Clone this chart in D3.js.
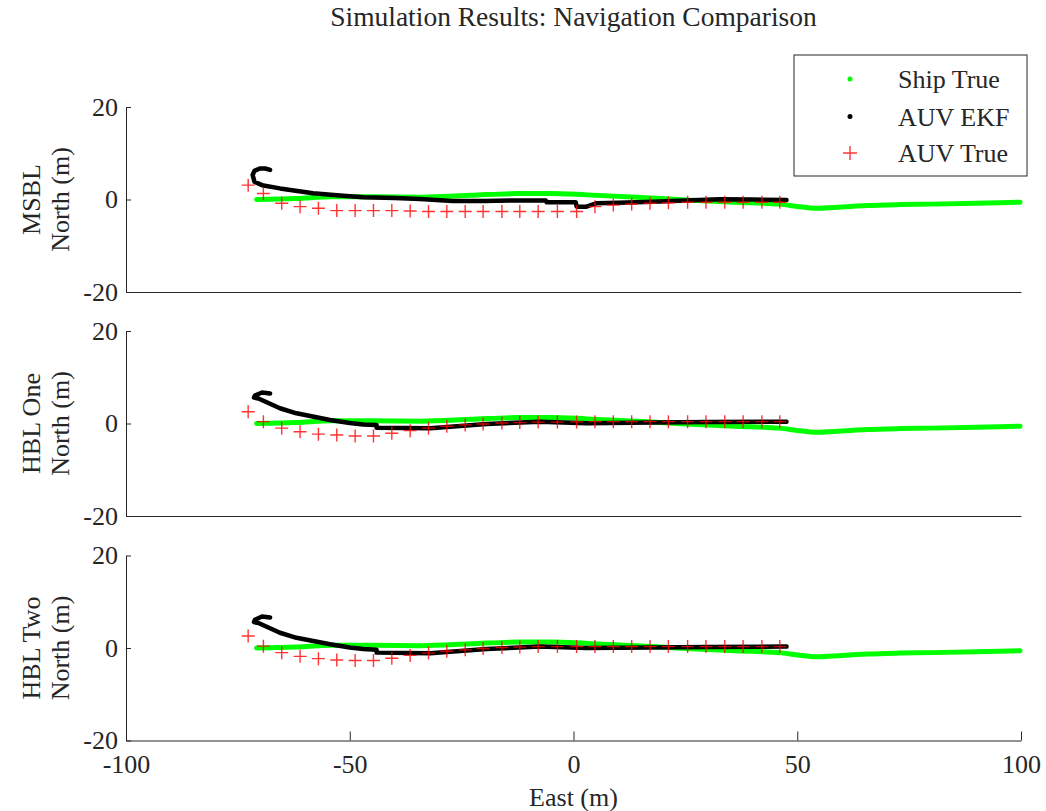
<!DOCTYPE html>
<html><head><meta charset="utf-8">
<script src="https://cdn.jsdelivr.net/npm/d3@7"></script>
<style>
body{margin:0;background:#fff;}
text{font-family:"Liberation Serif","Times New Roman",serif;fill:#262626;}
</style></head>
<body><svg id="chart" width="1046" height="811"></svg>
<script>
// ---- Data ----
const panelNames = ["MSBL", "HBL One", "HBL Two"];
const xTicks = [-100, -50, 0, 50, 100];
const yTicks = [-20, 0, 20];

// Ship True (same in all panels)
const shipX = [-70.8, -62, -54, -45, -34, -23, -12, -5, 3, 14, 25, 36, 46, 50, 54.3, 60, 65.5, 73, 80, 90, 99.8];
const shipY = [0.0, 0.2, 0.6, 0.6, 0.5, 0.9, 1.3, 1.3, 1.0, 0.5, -0.1, -0.6, -1.0, -1.5, -1.9, -1.6, -1.3, -1.1, -1.0, -0.8, -0.6];

// AUV EKF per panel
const ekfX1 = [-67.8, -68.9, -70.1, -71.3, -71.7, -71.3, -69.6, -65.6, -58.2, -52.2, -47, -40, -34.3, -27, -20, -12, -6.2, -6.0, 0.5, 0.7, 2.9, 5.2, 10, 17.8, 25, 32.7, 40, 47.6];
const ekfY1 = [6.4, 6.7, 6.7, 6.2, 5.3, 3.85, 3.1, 2.4, 1.34, 0.86, 0.48, 0.3, 0.1, -0.3, -0.3, -0.2, -0.2, -0.6, -0.6, -1.55, -1.55, -0.8, -0.7, -0.47, -0.2, 0.04, 0.0, -0.1];
const ekfX2 = [-67.8, -69.6, -71.2, -71.4, -70.4, -65.6, -61.9, -54.4, -50, -47, -44, -44, -32, -19.4, -7.5, 2.9, 17.8, 30, 47.6];
const ekfY2 = [6.5, 6.7, 6.05, 5.6, 5.4, 3.3, 2.2, 0.76, 0.1, -0.2, -0.3, -0.9, -1.05, -0.1, 0.4, 0.04, 0.2, 0.3, 0.4];
const ekfX3 = [-67.8, -69.6, -71.2, -71.4, -70.4, -65.6, -61.9, -54.4, -50, -47, -44, -44, -32, -19.4, -7.5, 2.9, 17.8, 30, 47.6];
const ekfY3 = [6.6, 6.8, 6.1, 5.6, 5.4, 3.3, 2.2, 0.8, 0.1, -0.2, -0.4, -1.0, -1.15, -0.2, 0.3, 0.0, 0.1, 0.2, 0.3];

// AUV True markers per panel
const trueX = [-72.7, -69.3, -65.2, -61.1, -57.0, -52.9, -48.8, -44.7, -40.6, -36.5, -32.4, -28.3, -24.2, -20.2, -16.0, -12.0, -7.9, -3.6, 0.7, 4.8, 8.9, 13.0, 17.1, 21.2, 25.5, 29.6, 33.8, 37.9, 42.1, 46.1];
const trueY1 = [3.1, 1.3, -0.8, -1.55, -1.9, -2.4, -2.4, -2.4, -2.4, -2.5, -2.6, -2.6, -2.6, -2.6, -2.6, -2.6, -2.6, -2.6, -2.6, -1.55, -1.2, -0.97, -0.8, -0.7, -0.6, -0.6, -0.6, -0.6, -0.6, -0.6];
const trueY2 = [2.55, 0.4, -1.0, -1.77, -2.3, -2.5, -2.7, -2.7, -2.1, -1.55, -1.0, -0.6, -0.3, -0.1, 0.1, 0.2, 0.3, 0.3, 0.35, 0.4, 0.4, 0.4, 0.4, 0.4, 0.4, 0.4, 0.4, 0.4, 0.4, 0.4];
const trueY3 = [2.6, 0.4, -1.0, -1.8, -2.3, -2.6, -2.7, -2.7, -2.2, -1.6, -1.1, -0.7, -0.4, -0.1, 0.1, 0.2, 0.3, 0.3, 0.3, 0.3, 0.3, 0.3, 0.3, 0.3, 0.3, 0.3, 0.3, 0.3, 0.3, 0.3];

const legendLabels = ["Ship True", "AUV EKF", "AUV True"];
const colors = {ship: "#00ff00", ekf: "#000000", truth: "#ff0000"};

const panels = [
  {name: panelNames[0], ekfX: ekfX1, ekfY: ekfY1, trueY: trueY1},
  {name: panelNames[1], ekfX: ekfX2, ekfY: ekfY2, trueY: trueY2},
  {name: panelNames[2], ekfX: ekfX3, ekfY: ekfY3, trueY: trueY3}
];

// ---- Layout ----
const svg = d3.select("#chart");
svg.append("rect").attr("width", 1046).attr("height", 811).attr("fill", "#fff");
const left = 126, right = 1021;
const panelTops = [107, 331, 555.5];
const panelH = 185;
const x = d3.scaleLinear().domain([-100, 100]).range([left, right]);
const fmt = d => String(d);

svg.append("text").attr("x", 573.5).attr("y", 26).attr("text-anchor", "middle")
  .style("font-size", "27.5px").text("Simulation Results: Navigation Comparison");

panels.forEach((p, i) => {
  const top = panelTops[i];
  const y = d3.scaleLinear().domain([-20, 20]).range([top + panelH, top]);
  const g = svg.append("g");

  // ship true
  const shipPts = shipX.map((v, k) => [v, shipY[k]]);
  g.append("path").datum(shipPts)
    .attr("d", d3.line().x(d => x(d[0])).y(d => y(d[1])).curve(d3.curveMonotoneX))
    .attr("fill", "none").attr("stroke", colors.ship).attr("stroke-width", 5)
    .attr("stroke-linecap", "round").attr("stroke-linejoin", "round");

  // EKF
  const ekfPts = p.ekfX.map((v, k) => [v, p.ekfY[k]]);
  g.append("path").datum(ekfPts)
    .attr("d", d3.line().x(d => x(d[0])).y(d => y(d[1])))
    .attr("fill", "none").attr("stroke", colors.ekf).attr("stroke-width", 4.5)
    .attr("stroke-linecap", "round").attr("stroke-linejoin", "round");

  // AUV true markers
  const tPts = trueX.map((v, k) => [v, p.trueY[k]]);
  g.selectAll("path.plus").data(tPts).enter().append("path")
    .attr("class", "plus")
    .attr("d", d => {
      const cx = x(d[0]), cy = y(d[1]), s = 6.5;
      return `M${cx - s},${cy}H${cx + s}M${cx},${cy - s}V${cy + s}`;
    })
    .attr("stroke", colors.truth).attr("stroke-width", 1.4).attr("stroke-opacity", 0.8).attr("fill", "none");

  // y axis
  const ya = g.append("g").attr("transform", `translate(${left},0)`)
    .call(d3.axisLeft(y).tickValues(yTicks).tickSize(-5).tickSizeOuter(0).tickPadding(8).tickFormat(fmt));
  ya.select(".domain").attr("stroke", "#262626");
  ya.selectAll(".tick line").attr("stroke", "#262626");
  ya.selectAll("text").style("font-size", "26px").attr("fill", "#262626").attr("font-family", null);

  // bottom axis
  const xa = g.append("g").attr("transform", `translate(0,${top + panelH})`);
  if (i === 2) {
    xa.call(d3.axisBottom(x).tickValues(xTicks).tickSize(-9).tickSizeOuter(0).tickPadding(14).tickFormat(fmt));
    xa.selectAll("text").style("font-size", "26px").attr("fill", "#262626").attr("font-family", null);
  } else {
    xa.call(d3.axisBottom(x).tickValues([]).tickSizeOuter(0));
  }
  xa.select(".domain").attr("stroke", "#262626");
  xa.selectAll(".tick line").attr("stroke", "#262626");

  // y label
  const cy = top + panelH / 2;
  const lab = svg.append("g").attr("transform", `rotate(-90)`);
  lab.append("text").attr("x", -cy).attr("y", 40).attr("text-anchor", "middle")
    .style("font-size", "26px").text(p.name);
  lab.append("text").attr("x", -cy).attr("y", 69).attr("text-anchor", "middle")
    .style("font-size", "26px").text("North (m)");
});

svg.append("text").attr("x", 573.5).attr("y", 806).attr("text-anchor", "middle")
  .style("font-size", "26px").text("East (m)");

// legend
const lg = svg.append("g");
lg.append("rect").attr("x", 794).attr("y", 55).attr("width", 233).attr("height", 121)
  .attr("fill", "#fff").attr("stroke", "#262626").attr("stroke-width", 1);
const ly = [79, 116.5, 153];
lg.append("circle").attr("cx", 850).attr("cy", ly[0]).attr("r", 2.5).attr("fill", colors.ship);
lg.append("circle").attr("cx", 850).attr("cy", ly[1]).attr("r", 2.5).attr("fill", colors.ekf);
lg.append("path").attr("d", `M${850 - 7},${ly[2]}H${850 + 7}M850,${ly[2] - 7}V${ly[2] + 7}`)
  .attr("stroke", colors.truth).attr("stroke-width", 1.4).attr("stroke-opacity", 0.8);
legendLabels.forEach((t, k) => {
  lg.append("text").attr("x", 898).attr("y", ly[k] + 9).style("font-size", "26px").text(t);
});
</script></body></html>
